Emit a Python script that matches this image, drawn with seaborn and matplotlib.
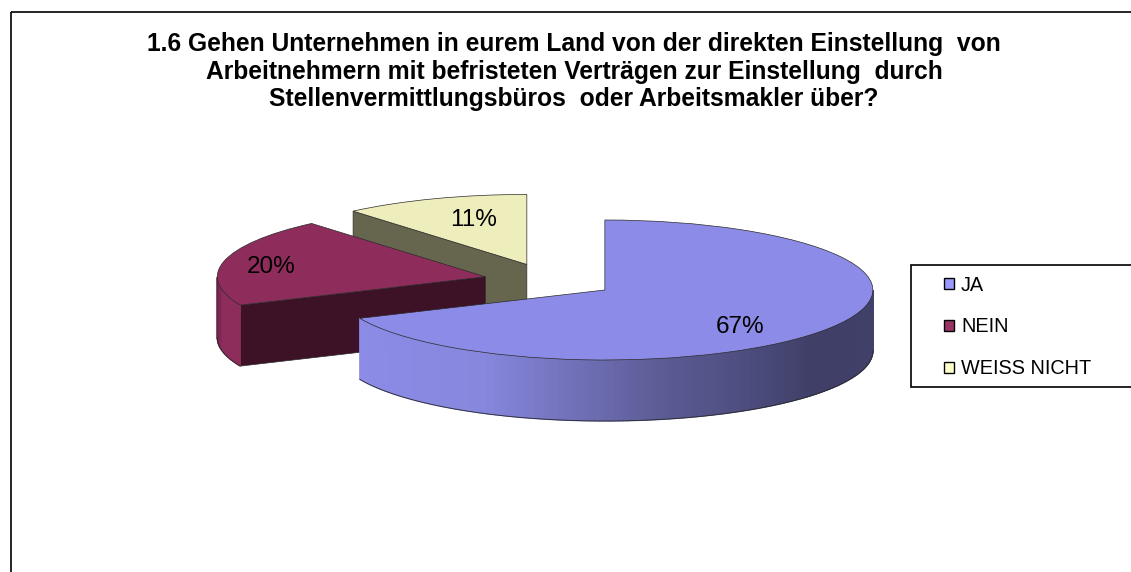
import numpy as np
import matplotlib
matplotlib.use("Agg")
import matplotlib.pyplot as plt
from matplotlib.patches import Patch, Polygon, Rectangle
import seaborn as sns

# Data
categories = ["JA", "NEIN", "WEISS NICHT"]
shares = [67, 20, 11]
title = (
    "1.6 Gehen Unternehmen in eurem Land von der direkten Einstellung  von\n"
    "Arbeitnehmern mit befristeten Verträgen zur Einstellung  durch\n"
    "Stellenvermittlungsbüros  oder Arbeitsmakler über?"
)

# Colours
top_colors = ["#8C8CE8", "#8E2D5C", "#EEEEBC"]
legend_colors = ["#9999FF", "#993366", "#FFFFCC"]
face_colors = ["#3F3F6C", "#3D1126", "#66664F"]
rim_stops = [
    ["#8C8CE8", "#8787DE", "#5C5C96", "#3F3F68", "#40406A"],
    ["#5A1F3E", "#8C2D5C", "#8C2D5C"],
    ["#66664F", "#66664F"],
]

# Layout, in pixels of the 1131x572 picture
W, H = 1131, 572
RX, RY = 268, 70
CX, CY = 549.6, 280.6
DEPTH = 61 / RY
EXPLODE = 0.246
label_offsets = [(0.504, -0.53), (-0.80, 0.14), (-0.198, 0.64)]

sns.set_theme(style="white")
plt.rcParams["font.family"] = ["Liberation Sans", "DejaVu Sans"]

fig = plt.figure(figsize=(W / 100, H / 100), dpi=100)
ax = fig.add_axes([0, 0, 1, 1])

wedges, _ = ax.pie(
    shares,
    colors=sns.color_palette(top_colors),
    explode=[EXPLODE] * len(shares),
    startangle=90,
    counterclock=False,
    wedgeprops={"linewidth": 0.5, "edgecolor": "#2A2A2A"},
)

# squash the pie: one data unit is RX pixels wide and RY pixels high
ax.set_aspect("auto")
ax.set_xlim(-CX / RX, (W - CX) / RX)
ax.set_ylim((CY - H) / RY, CY / RY)
ax.axis("off")


def add_rim(wedge, start, stop, stops, z):
    """Outer side of a slice between two angles, one strip per degree."""
    steps = max(int(stop - start), 1)
    angles = np.linspace(start, stop, steps + 1)
    palette = sns.blend_palette(stops, steps)
    cx, cy = wedge.center
    for a0, a1, color in zip(angles[:-1], angles[1:], palette):
        arc = np.radians([a0, a1])
        x = cx + wedge.r * np.cos(arc)
        y = cy + wedge.r * np.sin(arc)
        pts = [(x[0], y[0]), (x[1], y[1]), (x[1], y[1] - DEPTH), (x[0], y[0] - DEPTH)]
        ax.add_patch(Polygon(pts, facecolor=color, edgecolor=color, linewidth=0.9, zorder=z))
    # lower outline of the rim
    arc = np.radians(angles)
    ax.plot(
        cx + wedge.r * np.cos(arc),
        cy + wedge.r * np.sin(arc) - DEPTH,
        color="#2A2A2A",
        linewidth=0.6,
        zorder=z,
    )


def add_cut_face(wedge, angle, color, z):
    """Flat side of a slice along the radius at the given angle."""
    cx, cy = wedge.center
    x = cx + wedge.r * np.cos(np.radians(angle))
    y = cy + wedge.r * np.sin(np.radians(angle))
    pts = [(cx, cy), (x, y), (x, y - DEPTH), (cx, cy - DEPTH)]
    ax.add_patch(Polygon(pts, facecolor=color, edgecolor="#2A2A2A", linewidth=0.5, zorder=z))


# back slices first, the big one last
for i in range(len(wedges) - 1, -1, -1):
    wedge = wedges[i]
    z = 2 + (len(wedges) - i) * 2
    wedge.set_zorder(z + 1)
    t1, t2 = wedge.theta1, wedge.theta2
    if np.cos(np.radians(t2)) < -1e-6:
        add_cut_face(wedge, t2, face_colors[i], z)
    if np.cos(np.radians(t1)) > 1e-6:
        add_cut_face(wedge, t1, face_colors[i], z)
    # the rim shows only on the front half of the ellipse
    turn = np.floor(t1 / 360) * 360
    lo, hi = max(t1 - turn, 180), min(t2 - turn, 360)
    if hi > lo:
        add_rim(wedge, lo + turn, hi + turn, rim_stops[i], z)
    ax.text(
        wedge.center[0] + label_offsets[i][0],
        wedge.center[1] + label_offsets[i][1],
        f"{shares[i]}%",
        ha="center",
        va="center",
        fontsize=17.5,
        color="black",
        zorder=20,
    )

# Outer frame, runs off the right and bottom of the picture
ax.add_patch(
    Rectangle(
        (10.5 / W, 1 - 11.5 / H),
        1.1,
        -1.1,
        transform=ax.transAxes,
        fill=False,
        edgecolor="black",
        linewidth=1.2,
        zorder=1,
        clip_on=False,
    )
)

ax.text(
    574 / W,
    1 - 71.5 / H,
    title,
    transform=ax.transAxes,
    ha="center",
    va="center",
    fontsize=17.7,
    fontweight="bold",
    linespacing=1.2,
    color="black",
)

# Legend box, also cut by the right edge
ax.add_patch(
    Rectangle(
        (910.5 / W, 1 - 264.5 / H),
        0.3,
        -122.5 / H,
        transform=ax.transAxes,
        facecolor="white",
        edgecolor="black",
        linewidth=1.2,
        zorder=21,
        clip_on=True,
    )
)
handles = [
    Patch(facecolor=c, edgecolor="black", linewidth=1.0, label=n)
    for c, n in zip(sns.color_palette(legend_colors), categories)
]
leg = ax.legend(
    handles=handles,
    loc="center left",
    bbox_to_anchor=(944 / W, 1 - 327 / H),
    frameon=False,
    fontsize=14.3,
    labelcolor="black",
    handlelength=0.5,
    handleheight=0.5,
    handletextpad=0.35,
    labelspacing=1.15,
    borderpad=0,
    borderaxespad=0,
)
leg.set_zorder(22)

fig.savefig("out.png", dpi=100)
